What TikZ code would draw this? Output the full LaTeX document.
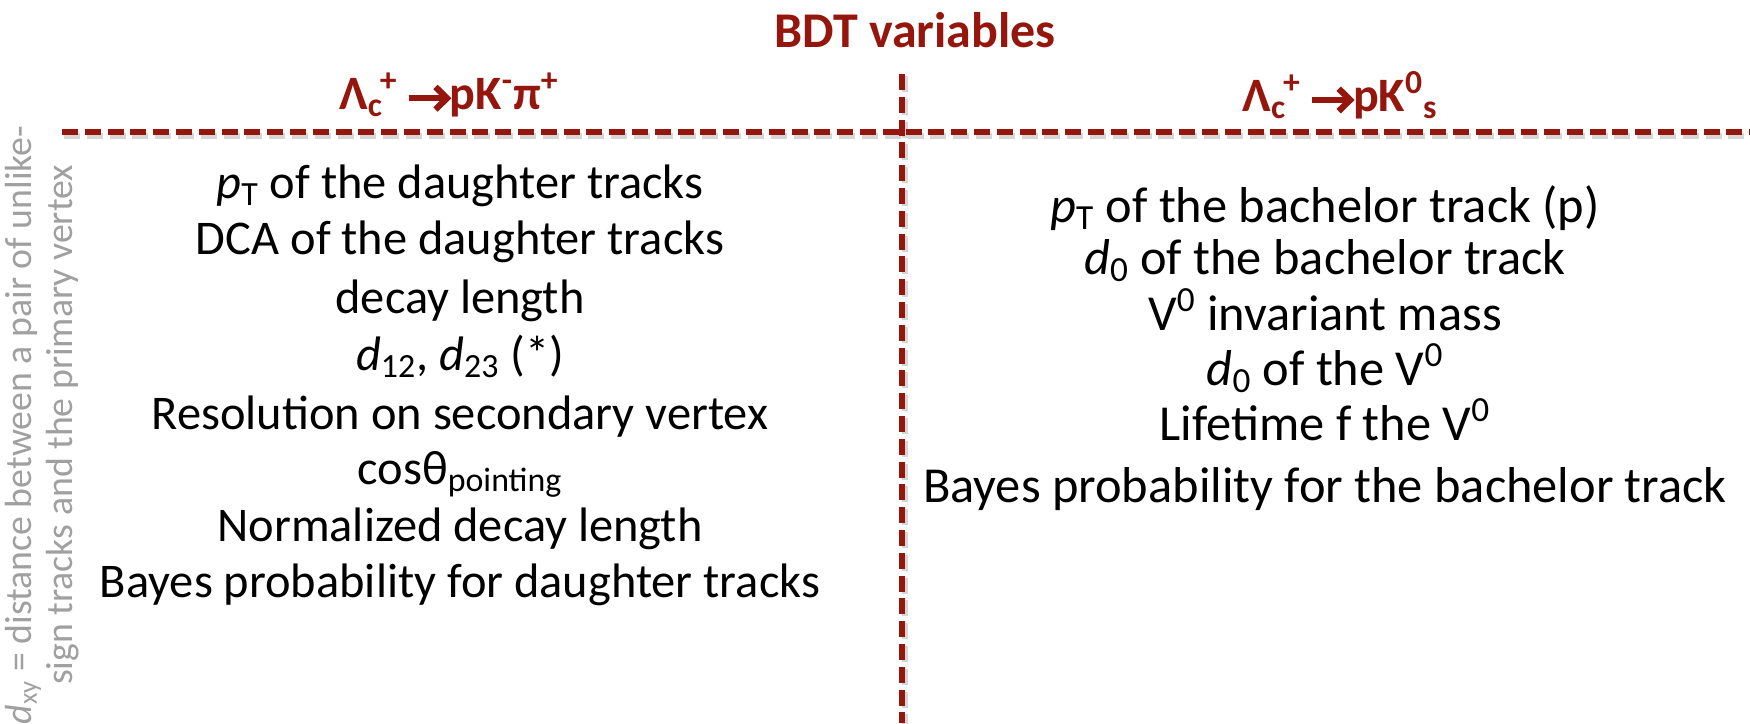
\documentclass[tikz,border=0pt]{standalone}
\usepackage{fontspec}
\setmainfont{Carlito}
\definecolor{dred}{RGB}{148,22,12}
\definecolor{notegray}{RGB}{160,160,160}
\newcommand{\chevarrow}{\tikz[baseline=0pt]{%
  \path[use as bounding box] (0,0) rectangle (0.86em,0.47em);
  \draw[draw=dred,line width=0.12em] (0,0.235em) -- (0.74em,0.235em);
  \draw[draw=dred,line width=0.13em,line join=miter,line cap=butt] (0.56em,0.47em) -- (0.8em,0.235em) -- (0.56em,0em);}}
\begin{document}
\begin{tikzpicture}[x=0.5pt,y=-0.5pt,
  titlestyle/.style={text=dred,font=\fontsize{25}{30}\selectfont\bfseries,inner sep=0pt},
  hdrstyle/.style={text=dred,font=\fontsize{24}{29}\selectfont\bfseries,inner sep=0pt},
  itemstyle/.style={font=\fontsize{24.2}{29}\selectfont,inner sep=0pt,anchor=base},
  ritemstyle/.style={font=\fontsize{25.2}{30}\selectfont,inner sep=0pt,anchor=base},
  notestyle/.style={text=notegray,font=\fontsize{18.9}{20.3}\selectfont,align=center,rotate=90,inner sep=0pt},
  sepline/.style={draw=dred,line width=2.6pt,dash pattern=on 8pt off 3.4pt},
  shadowline/.style={draw=black,opacity=0.16,line width=3pt,dash pattern=on 8pt off 3.4pt}]
\useasboundingbox (0,0) rectangle (1750,723);
% title and headers
\node[titlestyle] (title) at (915,30) {BDT variables};
\node[hdrstyle] (hl) at (449,95) {Λ\textsubscript{c}\kern-0.06em\textsuperscript{+} \chevarrow pK\textsuperscript{-}π\textsuperscript{+}};
\node[hdrstyle] (hr) at (1340,95) {Λ\textsubscript{c}\kern-0.06em\textsuperscript{+} \chevarrow pK\textsuperscript{0}\textsubscript{s}};
% separator lines
\coordinate (hs) at (62,132);
\coordinate (he) at (1750,132);
\coordinate (vs) at (902,74);
\coordinate (ve) at (902,723);
\draw[shadowline] ([shift={(2,4)}]hs) -- ([shift={(2,4)}]he);
\draw[shadowline] ([shift={(3,2)}]vs) -- ([shift={(3,2)}]ve);
\draw[sepline] (hs) -- (he);
\draw[sepline] (vs) -- (ve);
% left column
\node[itemstyle] (l1) at (460,198) {\textit{p}\textsubscript{T} of the daughter tracks};
\node[itemstyle] (l2) at (460,254) {DCA of the daughter tracks};
\node[itemstyle] (l3) at (460,313) {decay length};
\node[itemstyle] (l4) at (460,370) {\textit{d}\textsubscript{12}, \textit{d}\textsubscript{23} (*)};
\node[itemstyle] (l5) at (460,429) {Resolution on secondary vertex};
\node[itemstyle] (l6) at (460,484) {cosθ\textsubscript{pointing}};
\node[itemstyle] (l7) at (460,541) {Normalized decay length};
\node[itemstyle] (l8) at (460,597) {Bayes probability for daughter tracks};
% right column
\node[ritemstyle] (r1) at (1325,222) {\textit{p}\textsubscript{T} of the bachelor track (p)};
\node[ritemstyle] (r2) at (1325,274) {\textit{d}\textsubscript{0} of the bachelor track};
\node[ritemstyle] (r3) at (1325,330) {V\textsuperscript{0} invariant mass};
\node[ritemstyle] (r4) at (1325,385) {\textit{d}\textsubscript{0} of the V\textsuperscript{0}};
\node[ritemstyle] (r5) at (1325,440) {Lifetime f the V\textsuperscript{0}};
\node[ritemstyle] (r6) at (1325,502) {Bayes probability for the bachelor track};
% rotated note
\node[notestyle] (note) at (42,425) {\textit{d}\textsubscript{xy} = distance between a pair of unlike-\\sign tracks and the primary vertex};
\end{tikzpicture}
\end{document}
